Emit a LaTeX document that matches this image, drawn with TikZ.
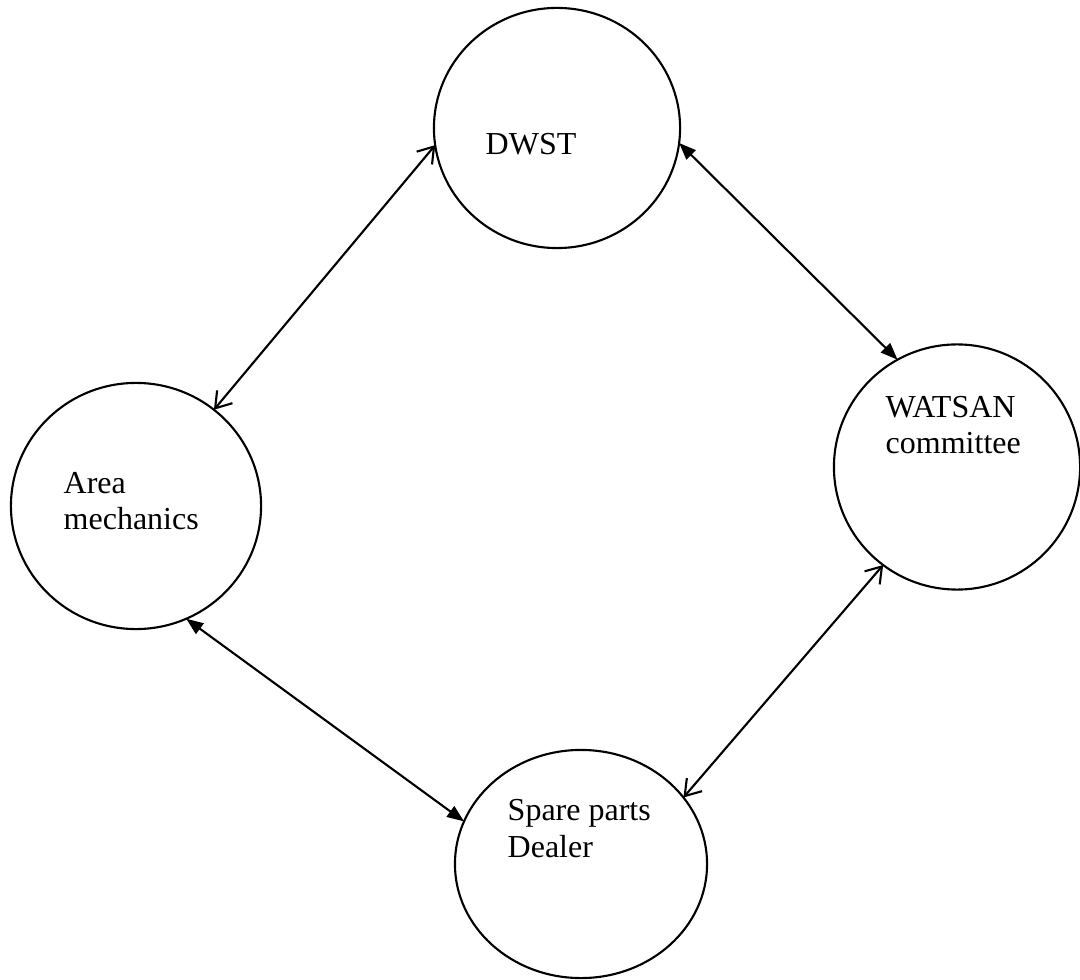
\documentclass[tikz,border=0pt]{standalone}
\usepackage{fontspec}
\setmainfont{Liberation Serif}
\usepackage{tikz}
\usetikzlibrary{shapes.geometric, arrows.meta, calc}
\tikzset{
    party/.style = {draw, ellipse, line width=0.6pt, inner sep=0pt, outer sep=0pt},
    party-text/.style = {anchor=base west, align=left, inner sep=0pt,
        font=\fontsize{9.1pt}{10.5pt}\selectfont},
    open-link/.style = {line width=0.6pt,
        {Straight Barb[length=1.5mm,width=2mm]}-{Straight Barb[length=1.5mm,width=2mm]}},
    solid-link/.style = {line width=0.6pt,
        {Triangle[length=1.7mm,width=1.3mm]}-{Triangle[length=1.7mm,width=1.3mm]}},
}

\begin{document}
\begin{tikzpicture}[x=0.01cm, y=-0.01cm]
\useasboundingbox (0,0) rectangle (1080,980);

\node[party, minimum width=2.46cm, minimum height=2.40cm] (dwst)   at (557,128) {};
\node[party, minimum width=2.50cm, minimum height=2.46cm] (area)   at (136,506) {};
\node[party, minimum width=2.46cm, minimum height=2.45cm] (watsan) at (957,467) {};
\node[party, minimum width=2.52cm, minimum height=2.28cm] (spare)  at (581,864) {};

% base anchor of a two-line text sits on its last line
\node[party-text] (dwst-text)   at ($(dwst.center)+(-72,27)$)   {DWST};
\node[party-text] (area-text)   at ($(area.center)+(-73,24)$)   {Area\\mechanics};
\node[party-text] (watsan-text) at ($(watsan.center)+(-72,-13)$) {WATSAN\\committee};
\node[party-text] (spare-text)  at ($(spare.center)+(-74,-7)$)  {Spare parts\\Dealer};

\draw[open-link]  (area.51)    -- (dwst.188);
\draw[solid-link] (dwst.353)   -- (watsan.119);
\draw[solid-link] (area.294)   -- (spare.160);
\draw[open-link]  (watsan.233) -- (spare.33);
\end{tikzpicture}
\end{document}
